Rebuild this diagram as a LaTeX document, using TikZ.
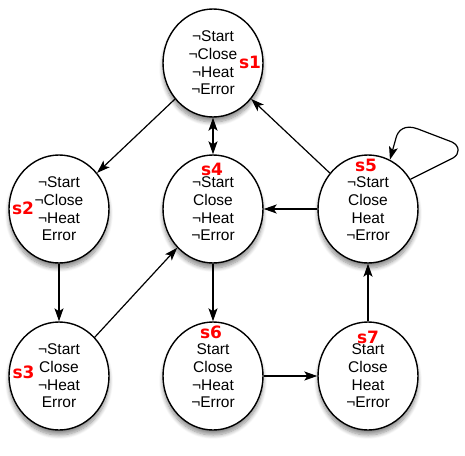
\documentclass[tikz,border=0pt]{standalone}
\usepackage{fontspec}
\setmainfont{Liberation Sans}
\newfontfamily\labfont{DejaVu Sans}
\usetikzlibrary{shapes.geometric,arrows.meta,shadows.blur}
\tikzset{
  state/.style={ellipse, draw=black, line width=1.4pt, fill=white,
    minimum width=100pt, minimum height=108pt, inner sep=0pt, align=center,
    font=\fontsize{15.5}{17.7}\selectfont,
    blur shadow={shadow xshift=0pt, shadow yshift=-5pt, shadow blur steps=8, shadow opacity=45, shadow blur radius=4pt}},
  lab/.style={text=red, font=\labfont\bfseries\fontsize{17}{17}\selectfont, inner sep=0pt},
  tip/.tip={Stealth[length=13pt,width=9pt,inset=3pt]},
  edge/.style={line width=1.2pt, -tip},
  bothedge/.style={line width=1.2pt, tip-tip}
}
\begin{document}
\begin{tikzpicture}[x=1pt,y=-1pt]
\useasboundingbox (0,0) rectangle (465,455);
\node[state] (s1) at (213,63) {¬Start\\¬Close\\¬Heat\\¬Error};
\node[state] (s2) at (59,209) {¬Start\\¬Close\\¬Heat\\Error};
\node[state] (s4) at (213,209) {¬Start\\Close\\¬Heat\\¬Error};
\node[state] (s5) at (368,209) {¬Start\\Close\\Heat\\¬Error};
\node[state] (s3) at (59,376) {¬Start\\Close\\¬Heat\\Error};
\node[state] (s6) at (213,376) {Start\\Close\\¬Heat\\¬Error};
\node[state] (s7) at (368,376) {Start\\Close\\Heat\\¬Error};
\node[lab] (l1) at (250,62) {s1};
\node[lab] (l2) at (23,208) {s2};
\node[lab] (l4) at (212,169) {s4};
\node[lab] (l5) at (366,165) {s5};
\node[lab] (l3) at (23.5,372) {s3};
\node[lab] (l6) at (211,332) {s6};
\node[lab] (l7) at (368,337) {s7};
\draw[edge] (s1) -- (s2);
\draw[bothedge] (s1) -- (s4);
\draw[edge] (s5) -- (s1);
\draw[edge] (s5) -- (s4);
\draw[edge] (s2) -- (s3);
\draw[edge] (s3) -- (s4);
\draw[edge] (s4) -- (s6);
\draw[edge] (s6) -- (s7);
\draw[edge] (s7) -- (s5);
\draw[edge] (s5.35) -- (453,158) .. controls (460,154) and (460,146) .. (452,142) -- (418,129) .. controls (405,124) and (398,130) .. (396,138) -- (s5.66);
\end{tikzpicture}
\end{document}
